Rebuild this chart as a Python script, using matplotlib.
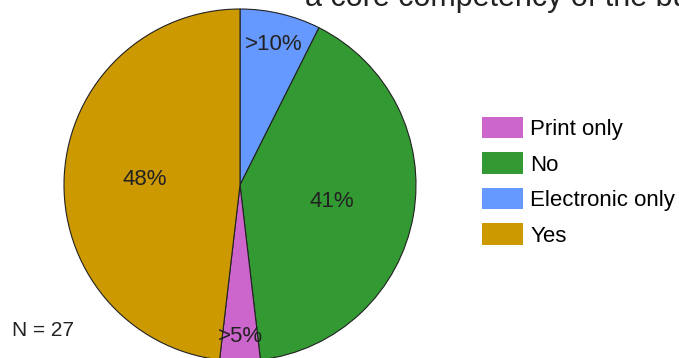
import matplotlib
matplotlib.use("Agg")
import matplotlib.pyplot as plt
from matplotlib.patches import Patch
import numpy as np

plt.rcParams['font.family'] = ['Liberation Sans', 'DejaVu Sans']

# Data (clockwise from top)
categories = ["Electronic only", "No", "Print only", "Yes"]
counts = [2, 11, 1, 13]
slice_labels = [">10%", "41%", ">5%", "48%"]
colors = ["#6699ff", "#339933", "#cc66cc", "#cc9900"]
legend_order = ["Print only", "No", "Electronic only", "Yes"]
label_dist = [0.82, 0.53, 0.86, 0.54]
title_text = "a core competency of the business?"
n_text = "N = 27"

W, H = 679, 358
fig = plt.figure(figsize=(W / 100, H / 100), dpi=100)

cx, cy, r = 240, 185, 176
ax = fig.add_axes([(cx - r) / W, (H - cy - r) / H, 2 * r / W, 2 * r / H])
wedges, _ = ax.pie(counts, colors=colors, startangle=90, counterclock=False,
                   radius=1.0, wedgeprops=dict(edgecolor="#222222", linewidth=0.8))
ax.set_xlim(-1, 1)
ax.set_ylim(-1, 1)
ax.set_aspect('equal')
ax.axis('off')

for w, lab, d in zip(wedges, slice_labels, label_dist):
    ang = np.deg2rad((w.theta1 + w.theta2) / 2)
    ax.text(d * np.cos(ang), d * np.sin(ang), lab, ha='center', va='center',
            fontsize=16, color="#222222")

handles = [Patch(facecolor=colors[categories.index(c)], edgecolor='none') for c in legend_order]
fig.legend(handles, legend_order, loc='upper left', bbox_to_anchor=(482 / W, 1 - 117 / H),
           frameon=False, fontsize=16, handlelength=1.85, handleheight=1.1,
           labelspacing=0.55, handletextpad=0.32, borderaxespad=0, borderpad=0)

fig.text(305 / W, 1 - 6 / H, title_text, ha='left', va='baseline', fontsize=22, color="#222222")
fig.text(12 / W, 1 - 330 / H, n_text, ha='left', va='center', fontsize=15, color="#222222")

fig.savefig("out.png", dpi=100)
